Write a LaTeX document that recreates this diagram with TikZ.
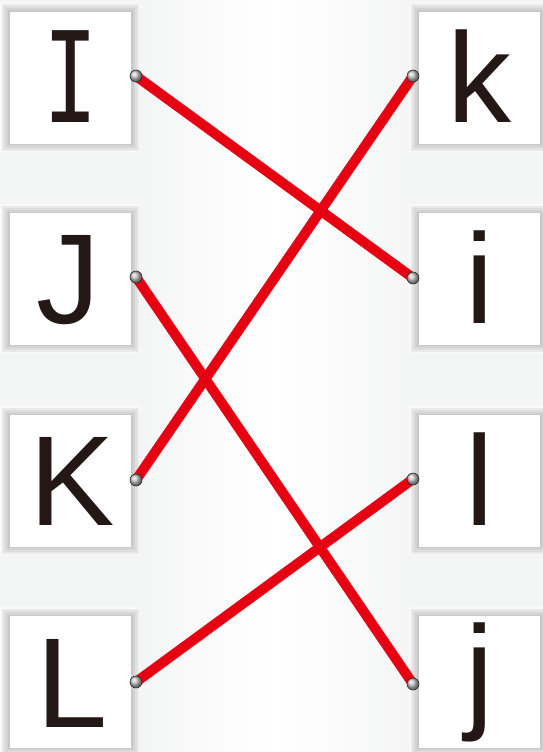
\documentclass[tikz,border=0pt]{standalone}
\usepackage{fontspec}
\setmainfont{Liberation Sans}
\newfontfamily\slabfam{DejaVu Sans Mono}
\definecolor{bg}{HTML}{F4F6F5}
\definecolor{ink}{HTML}{231815}
\definecolor{linered}{HTML}{E60012}
\definecolor{fa}{HTML}{FAFAFA}
\definecolor{fb}{HTML}{E9E9E9}
\definecolor{fc}{HTML}{DEDEDE}
\definecolor{fd}{HTML}{D3D3D3}
\definecolor{fe}{HTML}{C8C8C8}
\newcommand\bevelbox[2]{%
  \begin{scope}[shift={(#1,#2)}]
    \fill[fa] (0,0) rectangle (140,149);
    \fill[fb] (1.5,1.5) rectangle (138.5,147.5);
    \fill[fc] (3.5,3.5) rectangle (136.5,145.5);
    \fill[fd] (5.5,5.5) rectangle (134.5,143.5);
    \fill[fe] (7.5,7.5) rectangle (132.5,141.5);
    \fill[white] (10,9) rectangle (131,141);
  \end{scope}}
\tikzset{
  letter/.style={anchor=base, inner sep=0pt, text=ink, font=\fontsize{128}{128}\selectfont},
  match/.style={draw=linered, line width=10pt},
  knob/.style={ball color=gray!45}
}
\begin{document}
\begin{tikzpicture}[x=1pt,y=-1pt]
\useasboundingbox (0,0) rectangle (543,752);
\fill[bg] (0,0) rectangle (543,752);
\shade[left color=bg, right color=bg, middle color=white] (140,0) rectangle (410,752);
\foreach \yy in {3,204,406,607} {
  \bevelbox{0}{\yy}
  \bevelbox{409}{\yy}
}
% letters
\node[letter, font=\slabfam\fontsize{126}{126}\selectfont, xscale=0.72] (I) at (70.5,122) {I};
\node[letter] (J) at (68,323.5) {J};
\node[letter] (K) at (72,525) {K};
\node[letter] (L) at (72,727) {L};
\node[letter] (k) at (479.5,122) {k};
\node[letter] (i) at (479.5,323.5) {i};
\node[letter] (l) at (479.5,525) {l};
\node[letter] (j) at (479.5,715) {j};
% endpoints
\coordinate (dI) at (136,76);
\coordinate (dJ) at (136,277);
\coordinate (dK) at (136,480);
\coordinate (dL) at (136,682);
\coordinate (dk) at (413,76);
\coordinate (di) at (413,278);
\coordinate (dl) at (413,479);
\coordinate (dj) at (413,684);
% connectors
\draw[match] (dI) -- (di);
\draw[match] (dk) -- (dK);
\draw[match] (dJ) -- (dj);
\draw[match] (dL) -- (dl);
\foreach \p in {dI,dJ,dK,dL,dk,di,dl,dj} {
  \shade[knob] (\p) circle (6);
  \draw[gray!35!black, line width=0.6pt] (\p) circle (6);
}
\end{tikzpicture}
\end{document}
